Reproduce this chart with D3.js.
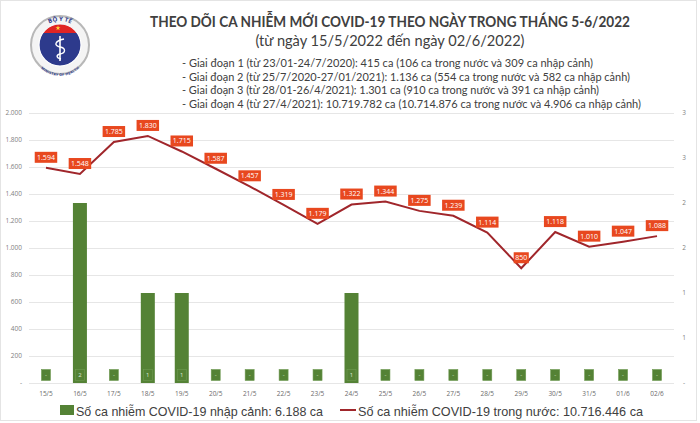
<!DOCTYPE html>
<html>
<head>
<meta charset="utf-8">
<script src="https://cdn.jsdelivr.net/npm/d3@7"></script>
<style>
  html, body { margin: 0; padding: 0; background: #fff; }
  svg { display: block; }
</style>
</head>
<body>
<svg id="chart" width="700" height="423"></svg>
<script>
// ---------------- DATA ----------------
const categories = ["15/5","16/5","17/5","18/5","19/5","20/5","21/5","22/5","23/5","24/5",
                    "25/5","26/5","27/5","28/5","29/5","30/5","31/5","01/6","02/6"];
const domesticCases = [1594,1548,1785,1830,1715,1587,1457,1319,1179,1322,
                       1344,1275,1239,1114,850,1118,1010,1047,1088];
const importedCases = [0,2,0,1,1,0,0,0,0,1,0,0,0,0,0,0,0,0,0];
const leftTicks = [0,200,400,600,800,1000,1200,1400,1600,1800,2000];
const rightTicks = [0,0.5,1,1.5,2,2.5,3];
const titleText = "THEO DÕI CA NHIỄM MỚI COVID-19 THEO NGÀY TRONG THÁNG 5-6/2022";
const subtitleText = "(từ ngày 15/5/2022 đến ngày 02/6/2022)";
const stageLines = [
  "- Giai đoạn 1 (từ 23/01-24/7/2020): 415 ca (106 ca trong nước và 309 ca nhập cảnh)",
  "- Giai đoạn 2 (từ 25/7/2020-27/01/2021): 1.136 ca (554 ca trong nước và 582 ca nhập cảnh)",
  "- Giai đoạn 3 (từ 28/01-26/4/2021): 1.301 ca (910 ca trong nước và 391 ca nhập cảnh)",
  "- Giai đoạn 4 (từ 27/4/2021): 10.719.782 ca (10.714.876 ca trong nước và 4.906 ca nhập cảnh)"
];
const legendImported = "Số ca nhiễm COVID-19 nhập cảnh: 6.188 ca";
const legendDomestic = "Số ca nhiễm COVID-19 trong nước: 10.716.446 ca";

// ---------------- STYLE / LAYOUT ----------------
const FONT = "'Open Sans','Noto Sans',sans-serif";
const HFONT = "Lato,'Open Sans',sans-serif";
const GREEN = "#548235", LINE = "#a0262b", LABEL = "#e8481f", TEXT = "#404040";
const svg = d3.select("#chart");
const loc = d3.formatLocale({decimal: ",", thousands: ".", grouping: [3], currency: ["", ""]});
const fmt = loc.format(",d");

const x = d3.scaleBand().domain(categories).range([29, 674]).paddingInner(0).paddingOuter(0);
const yL = d3.scaleLinear().domain([0, 2000]).range([383, 113]);
const yR = d3.scaleLinear().domain([0, 3]).range([383, 113]);
const cx = d => x(d) + x.bandwidth() / 2;

// light frame
svg.append("rect").attr("x", 0.5).attr("y", 0.5).attr("width", 696).attr("height", 420)
  .attr("fill", "none").attr("stroke", "#e4e4e4").attr("stroke-width", 1);

// ---------------- LOGO ----------------
const logo = svg.append("g").attr("transform", "translate(60,45)");
logo.append("circle").attr("r", 29).attr("fill", "#f4f4f4").attr("stroke", "#b8b8b8").attr("stroke-width", 2);
const defs = svg.append("defs");
defs.append("clipPath").attr("id", "inner").append("circle").attr("r", 21);
defs.append("path").attr("id", "arcTop").attr("d", "M -24,0 A 24,24 0 0,1 24,0");
defs.append("path").attr("id", "arcBot").attr("d", "M -25,3 A 25,25 0 0,0 25,3");
const inner = logo.append("g").attr("clip-path", "url(#inner)");
inner.append("rect").attr("x", -22).attr("y", -22).attr("width", 44).attr("height", 44).attr("fill", "#2d3a8c");
inner.append("rect").attr("x", -22).attr("y", -22).attr("width", 44).attr("height", 10).attr("fill", "#e02424");
logo.append("circle").attr("r", 21).attr("fill", "none").attr("stroke", "#fff").attr("stroke-width", 1.2);
logo.append("path").attr("d", d3.symbol().type(d3.symbolStar).size(8)()).attr("transform", "translate(-2,-17)").attr("fill", "#ffd83a");
logo.append("line").attr("x1", 0).attr("y1", -9).attr("x2", 0).attr("y2", 16).attr("stroke", "#fff").attr("stroke-width", 1.6);
logo.append("path").attr("d", "M 4,-6 C -6,-4 -6,1 0,2 C 6,3 6,8 0,9 C -4,10 -4,13 1,14")
  .attr("fill", "none").attr("stroke", "#fff").attr("stroke-width", 1.4);
logo.append("text").attr("font-family", FONT).attr("font-size", 6).attr("font-weight", "bold").attr("fill", "#2d3a8c")
  .append("textPath").attr("href", "#arcTop").attr("startOffset", "50%").attr("text-anchor", "middle").text("BỘ Y TẾ");
logo.append("text").attr("font-family", FONT).attr("font-size", 3.6).attr("font-weight", "bold").attr("fill", "#2d3a8c")
  .attr("dy", 3)
  .append("textPath").attr("href", "#arcBot").attr("startOffset", "50%").attr("text-anchor", "middle").text("MINISTRY OF HEALTH");

// ---------------- TITLES ----------------
svg.append("text").attr("x", 390).attr("y", 27).attr("text-anchor", "middle")
  .attr("font-family", HFONT).attr("font-size", 15).attr("font-weight", "bold").attr("fill", TEXT)
  .attr("textLength", 480).attr("lengthAdjust", "spacingAndGlyphs").text(titleText);
svg.append("text").attr("x", 390).attr("y", 45.5).attr("text-anchor", "middle")
  .attr("font-family", HFONT).attr("font-size", 15).attr("fill", TEXT)
  .attr("textLength", 269).attr("lengthAdjust", "spacingAndGlyphs").text(subtitleText);
const stageLen = [411, 448, 417, 459];
const stageY = [67, 80.5, 94, 107.5];
stageLines.forEach((t, i) => {
  svg.append("text").attr("x", 182).attr("y", stageY[i])
    .attr("font-family", HFONT).attr("font-size", 11).attr("fill", TEXT)
    .attr("textLength", stageLen[i]).attr("lengthAdjust", "spacingAndGlyphs").text(t);
});

// ---------------- GRID & AXES ----------------
svg.append("g").selectAll("line").data(leftTicks).join("line")
  .attr("x1", 29).attr("x2", 674).attr("y1", d => Math.round(yL(d)) + 0.5).attr("y2", d => Math.round(yL(d)) + 0.5)
  .attr("stroke", "#e6e6e6").attr("stroke-width", 1);

svg.append("g").selectAll("text").data(leftTicks).join("text")
  .attr("x", 22).attr("y", d => yL(d)).attr("dy", "0.35em").attr("text-anchor", "end")
  .attr("font-family", FONT).attr("font-size", 6.5).attr("fill", "#7f7f7f")
  .text(d => d === 0 ? "-" : fmt(d));

svg.append("g").selectAll("text").data(rightTicks).join("text")
  .attr("x", 684).attr("y", d => yR(d)).attr("dy", "0.35em").attr("text-anchor", "middle")
  .attr("font-family", FONT).attr("font-size", 6.5).attr("fill", "#7f7f7f")
  .text(d => d === 0 ? "-" : Math.round(d));

svg.append("g").selectAll("text").data(categories).join("text")
  .attr("x", d => cx(d)).attr("y", 394).attr("dy", "0.35em").attr("text-anchor", "middle")
  .attr("font-family", FONT).attr("font-size", 6.5).attr("fill", "#6b6b6b")
  .text(d => d);

// ---------------- BARS ----------------
const barW = 14;
svg.append("g").selectAll("rect").data(categories).join("rect")
  .attr("x", d => cx(d) - barW / 2).attr("width", barW)
  .attr("y", (d, i) => yR(importedCases[i])).attr("height", (d, i) => yR(0) - yR(importedCases[i]))
  .attr("fill", GREEN);

// bar data labels (inside base)
const bl = svg.append("g");
categories.forEach((c, i) => {
  bl.append("rect").attr("x", cx(c) - 4.5).attr("y", 369.5).attr("width", 9).attr("height", 11)
    .attr("fill", GREEN).attr("stroke", "#6f9a52").attr("stroke-width", 0.6);
  bl.append("text").attr("x", cx(c)).attr("y", 375).attr("dy", "0.35em").attr("text-anchor", "middle")
    .attr("font-family", FONT).attr("font-size", 6).attr("fill", "#dfe9d6")
    .text(importedCases[i] === 0 ? "-" : importedCases[i]);
});

// ---------------- LINE ----------------
const line = d3.line().x((d, i) => cx(categories[i])).y(d => yL(d));
svg.append("path").datum(domesticCases).attr("d", line)
  .attr("fill", "none").attr("stroke", LINE).attr("stroke-width", 2).attr("stroke-linejoin", "miter");

const ll = svg.append("g");
domesticCases.forEach((v, i) => {
  const t = fmt(v);
  const w = t.length * 3.7 + 4;
  const px = cx(categories[i]), py = yL(v) - 10.5;
  ll.append("rect").attr("x", px - w / 2).attr("y", py - 5.5).attr("width", w).attr("height", 11)
    .attr("fill", LABEL);
  ll.append("text").attr("x", px).attr("y", py).attr("dy", "0.35em").attr("text-anchor", "middle")
    .attr("font-family", FONT).attr("font-size", 7).attr("fill", "#fff").text(t);
});

// ---------------- LEGEND ----------------
svg.append("rect").attr("x", 60).attr("y", 405).attr("width", 14).attr("height", 10).attr("fill", GREEN);
svg.append("text").attr("x", 76).attr("y", 415.5).attr("font-family", "'Liberation Sans',Arial,sans-serif")
  .attr("font-size", 13.5).attr("fill", TEXT)
  .attr("textLength", 247).attr("lengthAdjust", "spacingAndGlyphs").text(legendImported);
svg.append("line").attr("x1", 340).attr("x2", 356).attr("y1", 410).attr("y2", 410)
  .attr("stroke", LINE).attr("stroke-width", 2);
svg.append("text").attr("x", 358).attr("y", 415.5).attr("font-family", "'Liberation Sans',Arial,sans-serif")
  .attr("font-size", 13.5).attr("fill", TEXT)
  .attr("textLength", 285).attr("lengthAdjust", "spacingAndGlyphs").text(legendDomestic);
</script>
</body>
</html>
